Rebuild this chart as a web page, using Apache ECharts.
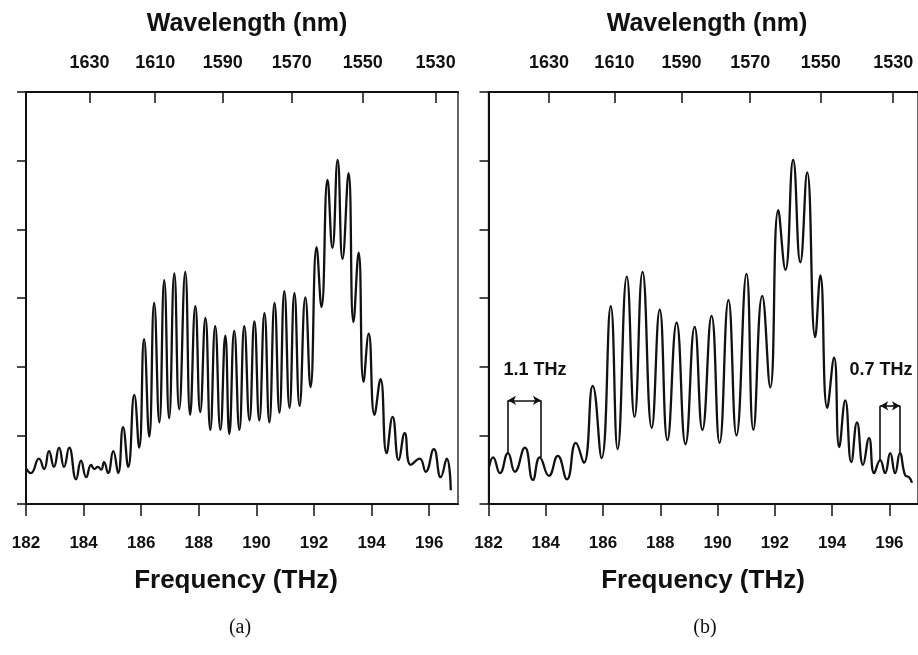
<!DOCTYPE html>
<html>
<head>
<meta charset="utf-8">
<style>html,body{margin:0;padding:0;background:#fff;}#chart{width:918px;height:655px;}</style>
<script src="https://cdn.jsdelivr.net/npm/echarts@6/dist/echarts.min.js"></script>
</head>
<body>
<div id="chart"></div>
<script>
// ---- data ----
const freqTicks = [182, 184, 186, 188, 190, 192, 194, 196];
const wavelengthTicks = [1630, 1610, 1590, 1570, 1550, 1530];

const freqA = [182.00,182.17,182.45,182.63,182.80,182.97,183.15,183.32,183.50,183.74,183.91,184.09,184.26,184.37,184.50,184.61,184.71,184.85,185.03,185.20,185.37,185.55,185.76,185.93,186.10,186.28,186.45,186.63,186.80,186.97,187.15,187.32,187.53,187.70,187.88,188.05,188.23,188.40,188.57,188.75,188.92,189.06,189.23,189.41,189.58,189.76,189.93,190.10,190.28,190.45,190.63,190.80,190.97,191.15,191.32,191.50,191.70,191.88,192.09,192.26,192.47,192.64,192.82,192.99,193.20,193.37,193.55,193.72,193.90,194.10,194.31,194.52,194.73,194.94,195.15,195.36,195.67,195.88,196.16,196.40,196.61,196.75];
const powerA = [0.52,0.45,0.66,0.51,0.77,0.54,0.82,0.54,0.82,0.36,0.63,0.39,0.57,0.51,0.54,0.50,0.61,0.45,0.77,0.45,1.12,0.54,1.59,0.82,2.40,0.98,2.93,1.19,3.26,1.25,3.36,1.38,3.38,1.30,2.88,1.34,2.71,1.08,2.59,1.08,2.45,1.02,2.52,1.08,2.59,1.22,2.66,1.22,2.78,1.19,2.93,1.33,3.10,1.40,3.07,1.43,3.01,1.70,3.74,2.87,4.72,3.73,5.01,3.57,4.82,2.65,3.66,1.78,2.48,1.30,1.82,0.74,1.27,0.64,1.03,0.57,0.66,0.47,0.80,0.39,0.66,0.20];

const freqB = [182.02,182.16,182.40,182.68,182.92,183.27,183.55,183.79,184.11,184.42,184.74,185.05,185.33,185.64,185.95,186.27,186.51,186.83,187.10,187.38,187.70,187.98,188.25,188.57,188.88,189.20,189.47,189.79,190.07,190.38,190.66,191.01,191.25,191.56,191.84,192.12,192.37,192.64,192.89,193.13,193.41,193.59,193.83,194.07,194.25,194.46,194.67,194.87,195.08,195.29,195.47,195.68,195.85,196.03,196.20,196.37,196.55,196.69,196.79];
const powerB = [0.54,0.68,0.45,0.74,0.47,0.82,0.35,0.68,0.41,0.70,0.36,0.89,0.60,1.72,0.67,2.88,0.80,3.31,1.27,3.38,1.11,2.83,0.93,2.64,0.87,2.58,1.08,2.74,0.89,2.97,1.00,3.35,1.08,3.03,1.70,4.28,3.41,5.01,3.52,4.83,2.43,3.33,1.40,2.13,0.83,1.51,0.61,1.19,0.57,0.96,0.45,0.64,0.45,0.74,0.45,0.74,0.42,0.39,0.31];

// spacing annotations in panel (b)
const spacingLabels = ['1.1 THz', '0.7 THz'];
const spacingStart = [182.68, 195.68];
const spacingEnd = [183.83, 196.37];
const spacingStartPeak = [0.74, 0.64];
const spacingEndPeak = [0.68, 0.74];
const spacingArrowLevel = [1.51, 1.43];
const spacingLabelFreq = [183.62, 195.71];
const spacingLabelLevel = [1.95, 1.95];

// ---- chart ----
const C = 299792.458; // speed of light, nm*THz
const SANS = '"Liberation Sans", Arial, Helvetica, sans-serif';
const SERIF = '"Liberation Serif", "Times New Roman", serif';
const INK = '#111';

const zip = (xs, ys) => xs.map((x, i) => [x, ys[i]]);

const grids = [
  { left: 26, top: 92, width: 432, height: 412 },
  { left: 488.5, top: 92, width: 430.5, height: 412 }
];
const topShift = [0.28, 0.19];

const xAxes = [], yAxes = [];
grids.forEach((g, i) => {
  xAxes.push({
    type: 'value', gridIndex: i, position: 'bottom', min: 182, max: 197,
    axisLine: { show: true, lineStyle: { color: INK, width: 2 } },
    axisTick: { show: true, customValues: freqTicks, length: 12, inside: false, lineStyle: { color: INK, width: 1.5 } },
    axisLabel: { show: true, customValues: freqTicks, margin: 31, fontFamily: SANS, fontSize: 17, fontWeight: 'bold', color: INK },
    splitLine: { show: false }
  });
  xAxes.push({
    type: 'value', gridIndex: i, position: 'top',
    min: 182 - topShift[i], max: 197 - topShift[i],
    axisLine: { show: true, lineStyle: { color: INK, width: 1.8 } },
    axisTick: { show: true, customValues: wavelengthTicks.map(l => C / l), length: 11, inside: true, lineStyle: { color: INK, width: 1.5 } },
    axisLabel: { show: true, customValues: wavelengthTicks.map(l => C / l), margin: 20, fontFamily: SANS, fontSize: 18, fontWeight: 'bold', color: INK,
      formatter: v => String(Math.round(C / v)) },
    splitLine: { show: false }
  });
  yAxes.push({
    type: 'value', gridIndex: i, min: 0, max: 6, interval: 1,
    axisLine: { show: true, lineStyle: { color: INK, width: 2 } },
    axisTick: { show: true, length: 9, inside: false, lineStyle: { color: INK, width: 1.5 } },
    axisLabel: { show: false },
    splitLine: { show: false }
  });
});

const lineStyle = { color: INK, width: 2.3 };

const markLineData = [];
spacingLabels.forEach((_, k) => {
  markLineData.push([
    { coord: [spacingStart[k], spacingArrowLevel[k]], symbol: 'none' },
    { coord: [spacingStart[k], spacingStartPeak[k]], symbol: 'none' }
  ]);
  markLineData.push([
    { coord: [spacingEnd[k], spacingArrowLevel[k]], symbol: 'none' },
    { coord: [spacingEnd[k], spacingEndPeak[k]], symbol: 'none' }
  ]);
  markLineData.push([
    { coord: [spacingStart[k], spacingArrowLevel[k]], symbol: 'arrow' },
    { coord: [spacingEnd[k], spacingArrowLevel[k]], symbol: 'arrow' }
  ]);
});

const option = {
  backgroundColor: '#fff',
  animation: false,
  grid: grids.map(g => Object.assign({ show: true, borderColor: INK, borderWidth: 1.3, backgroundColor: 'transparent' }, g)),
  xAxis: xAxes,
  yAxis: yAxes,
  series: [
    {
      type: 'line', xAxisIndex: 0, yAxisIndex: 0, data: zip(freqA, powerA),
      showSymbol: false, smooth: 0.5, lineStyle: lineStyle, silent: true
    },
    {
      type: 'line', xAxisIndex: 2, yAxisIndex: 1, data: zip(freqB, powerB),
      showSymbol: false, smooth: 0.5, lineStyle: lineStyle, silent: true,
      markLine: {
        silent: true, symbolSize: [7, 8], label: { show: false },
        lineStyle: { color: INK, width: 1.6, type: 'solid', opacity: 1 },
        data: markLineData
      }
    },
    {
      type: 'scatter', xAxisIndex: 2, yAxisIndex: 1, symbolSize: 0, silent: true,
      itemStyle: { opacity: 1 },
      data: spacingLabels.map((name, k) => ({ name: name, value: [spacingLabelFreq[k], spacingLabelLevel[k]] })),
      label: { show: true, position: 'inside', formatter: '{b}', fontFamily: SANS, fontSize: 18, fontWeight: 'bold', color: INK, opacity: 1 }
    }
  ],
  graphic: [
    { type: 'text', x: 247, y: 24, style: { text: 'Wavelength (nm)', fontFamily: SANS, fontSize: 25, fontWeight: 'bold', fill: INK, textAlign: 'center', textVerticalAlign: 'middle' } },
    { type: 'text', x: 707, y: 24, style: { text: 'Wavelength (nm)', fontFamily: SANS, fontSize: 25, fontWeight: 'bold', fill: INK, textAlign: 'center', textVerticalAlign: 'middle' } },
    { type: 'text', x: 236, y: 581, style: { text: 'Frequency (THz)', fontFamily: SANS, fontSize: 26, fontWeight: 'bold', fill: INK, textAlign: 'center', textVerticalAlign: 'middle' } },
    { type: 'text', x: 703, y: 581, style: { text: 'Frequency (THz)', fontFamily: SANS, fontSize: 26, fontWeight: 'bold', fill: INK, textAlign: 'center', textVerticalAlign: 'middle' } },
    { type: 'text', x: 240, y: 628, style: { text: '(a)', fontFamily: SERIF, fontSize: 20, fill: INK, textAlign: 'center', textVerticalAlign: 'middle' } },
    { type: 'text', x: 705, y: 628, style: { text: '(b)', fontFamily: SERIF, fontSize: 20, fill: INK, textAlign: 'center', textVerticalAlign: 'middle' } }
  ]
};

const chart = echarts.init(document.getElementById('chart'), null, { renderer: 'canvas' });
chart.setOption(option);
</script>
</body>
</html>
